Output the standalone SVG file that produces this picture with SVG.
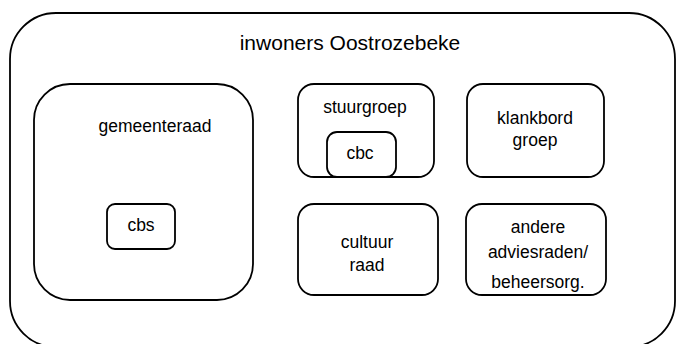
<svg xmlns="http://www.w3.org/2000/svg" width="677" height="344" viewBox="0 0 677 344">
<style>
.b{fill:#fff;stroke:#000;stroke-width:1.8}
.t{font-family:"Liberation Sans",Arial,sans-serif;fill:#000;text-anchor:middle}
.s{font-size:17.5px}
</style>
<rect width="677" height="344" fill="#fff"/>
<g id="inwoners">
<rect class="b" x="10" y="13" width="665" height="334" rx="46"/>
<text class="t" x="350" y="50" font-size="21">inwoners Oostrozebeke</text>
</g>
<g id="gemeenteraad">
<rect class="b" x="34" y="84" width="219" height="216" rx="36"/>
<text class="t s" x="155" y="132">gemeenteraad</text>
</g>
<g id="cbs">
<rect class="b" x="107" y="204" width="68" height="45" rx="8"/>
<text class="t s" x="141" y="231">cbs</text>
</g>
<g id="stuurgroep">
<rect class="b" x="298" y="84" width="136" height="93" rx="16"/>
<text class="t s" x="365" y="113">stuurgroep</text>
</g>
<g id="cbc">
<rect class="b" x="327" y="132" width="69" height="45" rx="10"/>
<text class="t s" x="360" y="159">cbc</text>
</g>
<g id="klankbord">
<rect class="b" x="467" y="84" width="137" height="93" rx="16"/>
<text class="t s" x="535" y="124">klankbord</text>
<text class="t s" x="535" y="146">groep</text>
</g>
<g id="cultuurraad">
<rect class="b" x="298" y="204" width="140" height="91" rx="16"/>
<text class="t s" x="367" y="248">cultuur</text>
<text class="t s" x="367" y="271">raad</text>
</g>
<g id="andere">
<rect class="b" x="466" y="204" width="140" height="91" rx="16"/>
<text class="t s" x="538" y="233">andere</text>
<text class="t s" x="538" y="258">adviesraden/</text>
<text class="t s" x="538" y="288">beheersorg.</text>
</g>
<g id="connectors"></g>
</svg>
